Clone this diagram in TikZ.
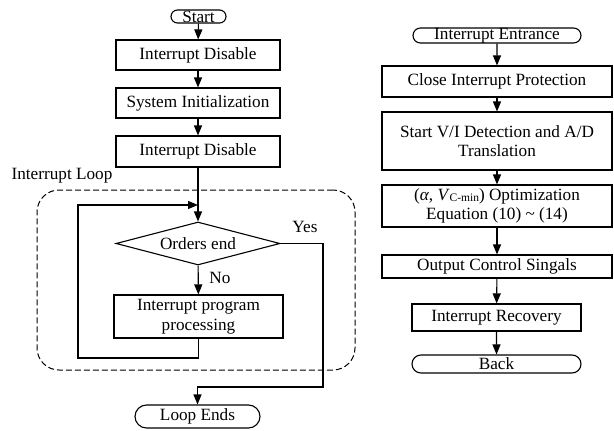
\documentclass[tikz,border=0pt]{standalone}
\usepackage{fontspec}
\setmainfont{Liberation Serif}
\usetikzlibrary{shapes.geometric,shapes.misc,arrows.meta}
\begin{document}
\begin{tikzpicture}[x=1pt,y=-1pt,
  font=\fontsize{17.2}{19.5}\selectfont,
  box/.style={draw, line width=1.1pt, inner sep=0pt, align=center},
  term/.style={draw, line width=1.1pt, rounded rectangle, inner sep=0pt},
  arr/.style={line width=1.1pt, -{Triangle[length=10pt,width=8pt]}},
  loopbox/.style={draw, line width=1pt, dash pattern=on 6pt off 3pt, rounded corners=22pt, inner sep=0pt}]
\useasboundingbox (0,0) rectangle (614,431);
% left column
\node[term, minimum width=55pt, minimum height=13pt] (start) at (198.5,16.5) {Start};
\node[box, minimum width=164pt, minimum height=30pt] (id1) at (198,55) {Interrupt Disable};
\node[box, minimum width=164pt, minimum height=30pt] (si) at (198,103) {System Initialization};
\node[box, minimum width=164pt, minimum height=31pt] (id2) at (198,151.5) {Interrupt Disable};
\node[loopbox, minimum width=318pt, minimum height=180pt] (loop) at (196,280) {};
\node (looplbl) at (62,176) {Interrupt Loop};
\node[draw, line width=1.1pt, diamond, inner sep=0pt, minimum width=164pt, minimum height=43pt] (dia) at (198,243.5) {};
\node at (dia) {Orders end};
\node[box, minimum width=169pt, minimum height=43pt] (ipp) at (198.5,316.5) {Interrupt program\\processing};
\node[term, minimum width=125pt, minimum height=23pt] (le) at (197.5,416.5) {Loop Ends};
\node (yes) at (305,227) {Yes};
\node (no) at (220,278) {No};
\coordinate (lbl) at (78,358);
\coordinate (lj) at (198,205);
\coordinate (yc) at (323,387);
\draw[arr] (start) -- (id1);
\draw[arr] (id1) -- (si);
\draw[arr] (si) -- (id2);
\draw[arr] (id2) -- (dia);
\draw[arr] (dia) -- (ipp);
\draw[arr] (ipp.south) |- (lbl) |- (lj);
\draw[arr] (dia.east) -| (yc) -| (le.north);
% right column
\node[term, minimum width=168pt, minimum height=15pt] (ie) at (497,35.5) {Interrupt Entrance};
\node[box, minimum width=230pt, minimum height=31pt] (cip) at (497,81.5) {Close Interrupt Protection};
\node[box, minimum width=230pt, minimum height=58pt] (svi) at (497,141) {Start V/I Detection and A/D\\Translation};
\node[box, minimum width=230pt, minimum height=42pt] (opt) at (497,206) {(\textit{α}, \textit{V}\raisebox{-1pt}{\fontsize{11.5}{11.5}\selectfont C-min}) Optimization\\[-1pt]Equation (10) \textasciitilde{} (14)};
\node[box, minimum width=230pt, minimum height=23pt] (ocs) at (497,266.5) {Output Control Singals};
\node[box, minimum width=169pt, minimum height=27pt] (ir) at (496.5,317.5) {Interrupt Recovery};
\node[term, minimum width=169pt, minimum height=18pt] (back) at (496.5,364) {Back};
\draw[arr] (ie) -- (cip);
\draw[arr] (cip) -- (svi);
\draw[arr] (svi) -- (opt);
\draw[arr] (opt) -- (ocs);
\draw[arr] (ocs) -- (ir);
\draw[arr] (ir) -- (back);
\end{tikzpicture}
\end{document}
